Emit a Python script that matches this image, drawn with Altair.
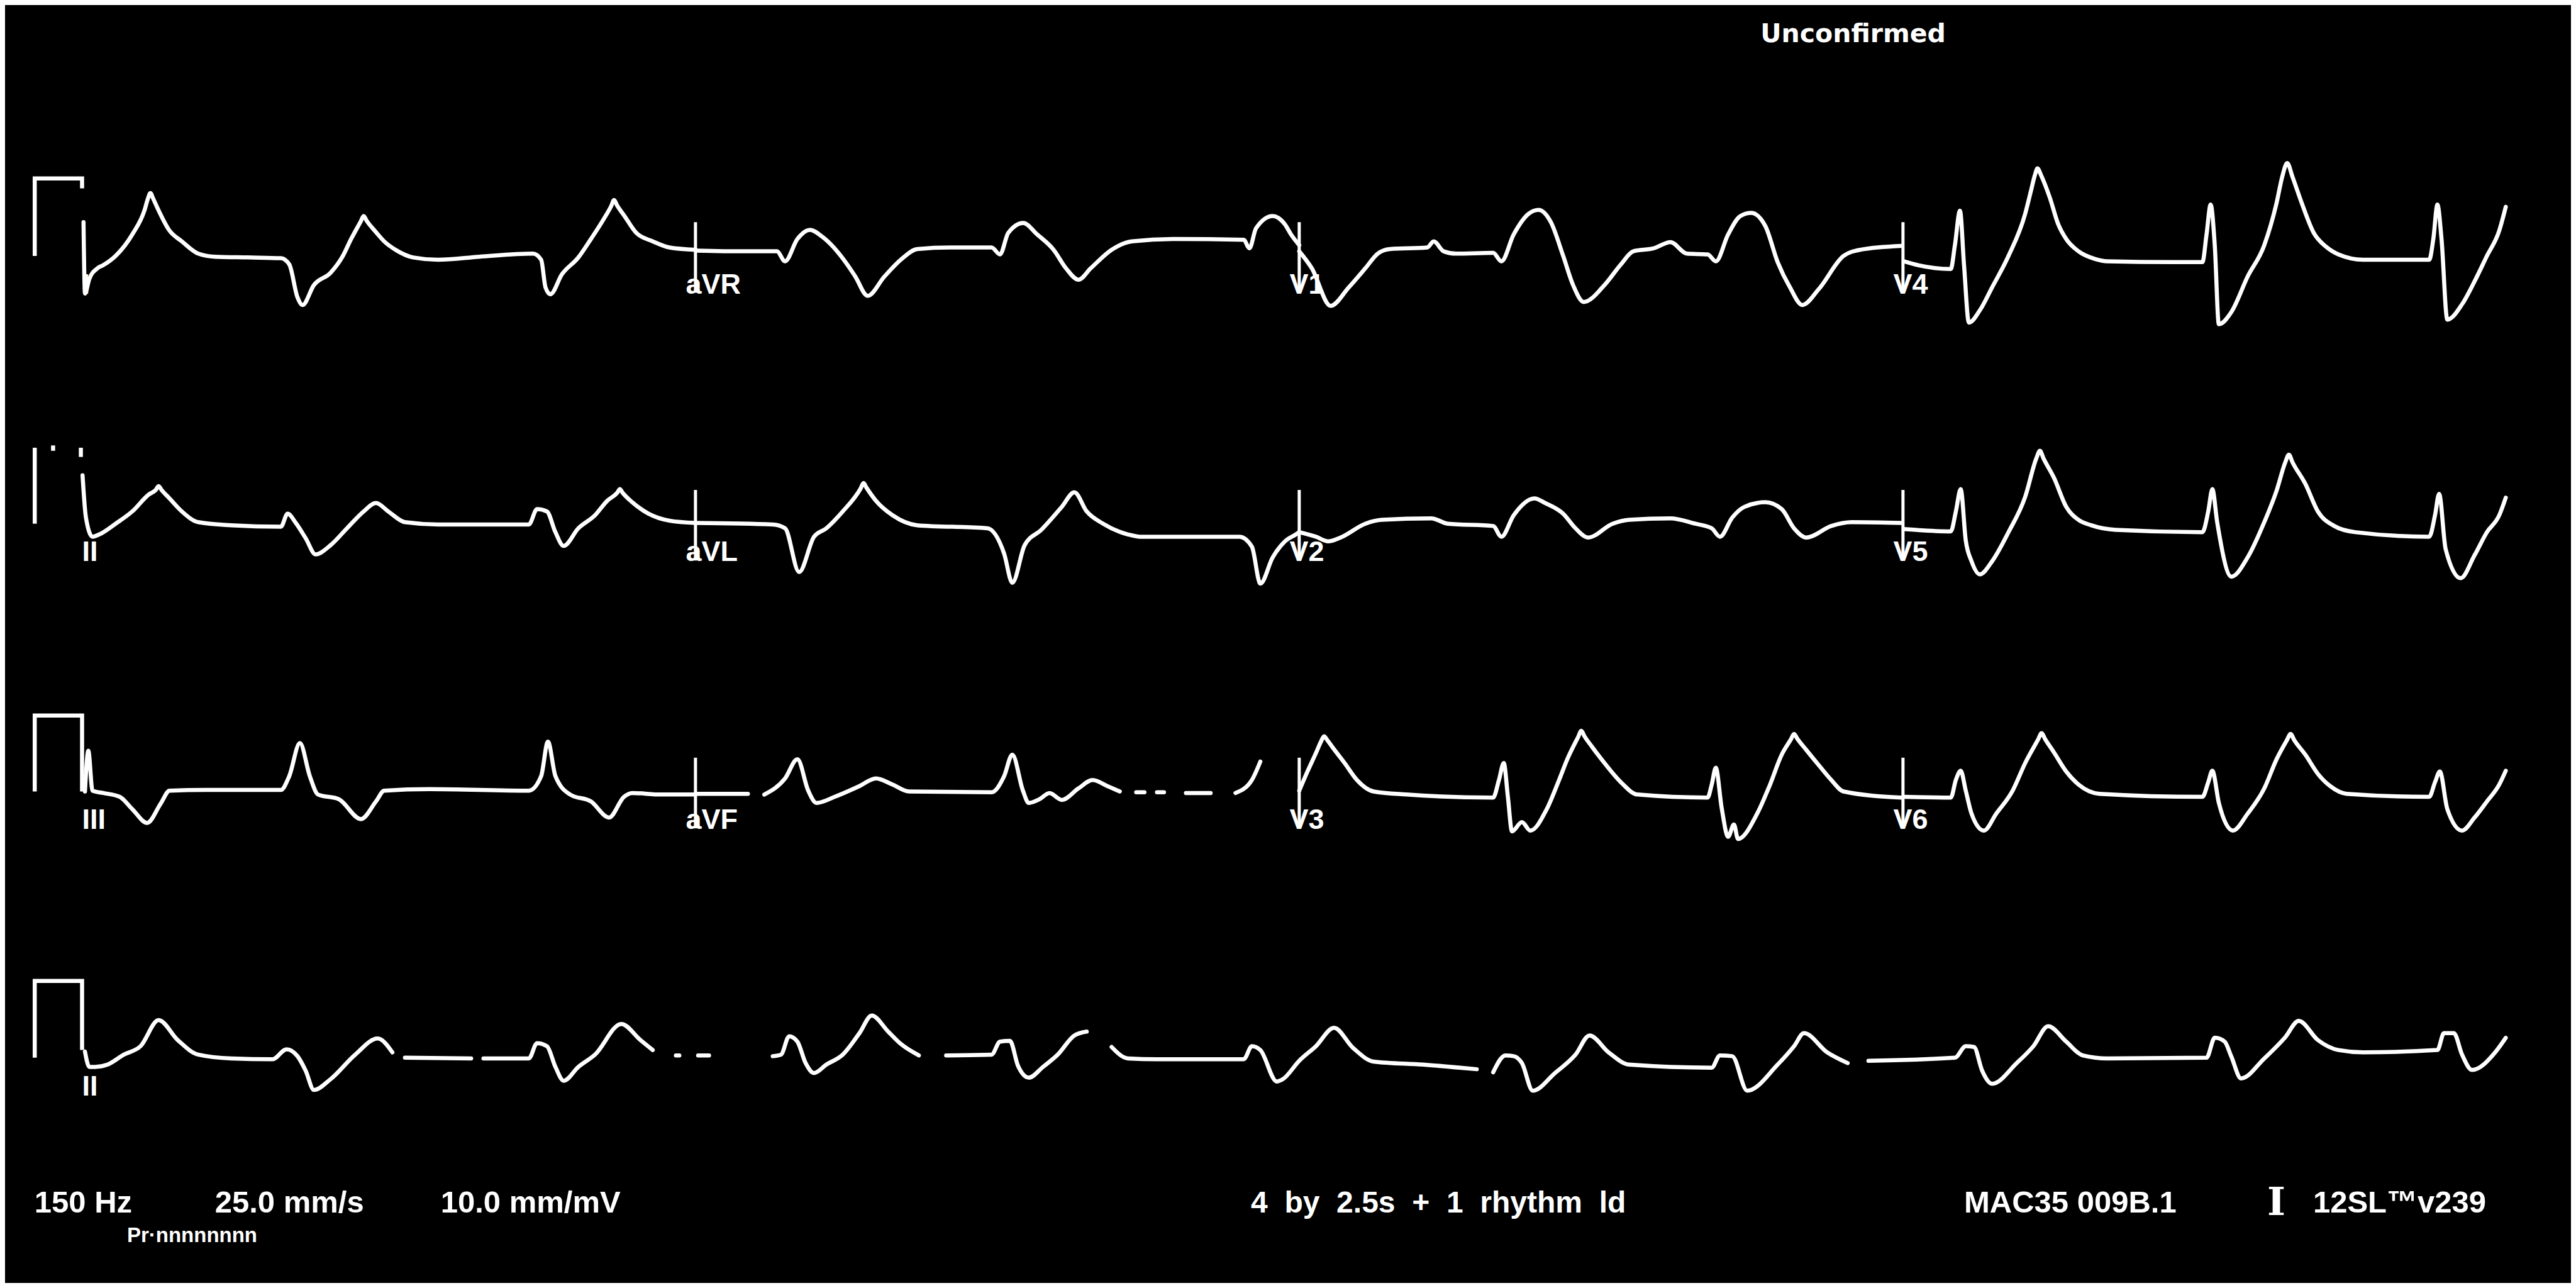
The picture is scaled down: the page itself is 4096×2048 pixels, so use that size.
import altair as alt
import pandas as pd

# ---------------------------------------------------------------
# ECG data: time in s (25 mm/s), amplitude in mV (10 mm/mV)
# None marks a break (drop-out) in the printed trace
# ---------------------------------------------------------------

# Row 1
LEAD_I = [(-0.034, 0.44), (-0.028, -0.49), (-0.010, -0.30), (0.024, -0.16), (0.048, -0.12), (0.099, 0.00),
          (0.168, 0.28), (0.219, 0.60), (0.232, 0.74), (0.243, 0.82), (0.254, 0.75), (0.270, 0.64), (0.322, 0.33),
          (0.373, 0.19), (0.441, 0.03),
          (0.510, -0.01), (0.647, -0.02), (0.783, -0.03), (0.818, -0.11), (0.852, -0.54), (0.873, -0.64),
          (0.920, -0.38), (0.989, -0.22), (1.040, 0.00), (1.074, 0.22), (1.114, 0.45), (1.126, 0.52),
          (1.138, 0.46), (1.177, 0.31), (1.211, 0.19),
          (1.263, 0.07), (1.331, -0.02), (1.434, -0.05), (1.605, -0.01), (1.827, 0.03), (1.861, -0.05),
          (1.879, -0.41), (1.899, -0.50), (1.947, -0.24), (2.015, -0.02), (2.067, 0.22), (2.118, 0.47),
          (2.151, 0.65), (2.163, 0.73), (2.175, 0.66), (2.204, 0.53), (2.255, 0.30), (2.323, 0.19),
          (2.392, 0.11), (2.501, 0.08)]
LEAD_AVR = [(2.501, 0.07), (2.700, 0.06), (2.837, 0.06), (2.871, -0.07), (2.922, 0.22), (2.974, 0.34),
            (3.025, 0.25), (3.128, -0.11), (3.162, -0.27), (3.213, -0.52), (3.282, -0.27), (3.350, -0.05),
            (3.419, 0.09), (3.555, 0.11), (3.726, 0.11), (3.761, 0.02), (3.795, 0.30), (3.857, 0.43), (3.915, 0.28),
            (3.983, 0.08), (4.034, -0.16), (4.086, -0.31), (4.137, -0.16), (4.223, 0.08), (4.308, 0.19),
            (4.479, 0.22), (4.770, 0.21), (4.794, 0.10), (4.821, 0.36), (4.890, 0.52), (4.941, 0.41),
            (4.966, 0.28), (5.000, 0.14)]
LEAD_V1 = [(5.000, 0.06), (5.052, -0.16), (5.130, -0.65), (5.205, -0.41), (5.274, -0.16), (5.325, 0.03),
           (5.376, 0.09), (5.530, 0.11), (5.557, 0.19), (5.598, 0.06), (5.649, 0.03), (5.803, 0.04), (5.837, -0.07),
           (5.888, 0.28), (5.950, 0.55), (5.991, 0.60), (6.042, 0.44), (6.093, 0.00), (6.134, -0.38),
           (6.178, -0.60), (6.264, -0.38), (6.332, -0.11), (6.383, 0.06), (6.469, 0.10), (6.537, 0.18),
           (6.605, 0.03), (6.691, 0.02), (6.725, -0.07), (6.776, 0.28), (6.827, 0.52), (6.872, 0.56), (6.930, 0.39),
           (6.981, -0.08), (7.032, -0.41), (7.083, -0.64), (7.152, -0.43), (7.254, 0.00), (7.323, 0.08),
           (7.493, 0.13)]
LEAD_V4 = [(7.503, -0.07), (7.562, -0.12), (7.698, -0.17), (7.715, 0.14), (7.736, 0.59), (7.753, -0.13),
           (7.773, -0.87), (7.818, -0.71), (7.869, -0.41), (7.937, 0.00), (8.006, 0.55), (8.030, 0.85),
           (8.046, 1.05), (8.057, 1.14), (8.072, 1.05), (8.108, 0.76), (8.142, 0.42), (8.176, 0.22),
           (8.227, 0.06), (8.296, -0.04), (8.347, -0.07), (8.620, -0.08),
           (8.740, -0.08), (8.757, 0.28), (8.774, 0.67), (8.791, 0.14), (8.808, -0.89), (8.860, -0.73),
           (8.927, -0.27), (8.996, 0.14), (9.047, 0.69), (9.071, 1.04), (9.091, 1.21), (9.113, 1.03),
           (9.150, 0.70), (9.201, 0.30), (9.252, 0.12),
           (9.303, 0.02), (9.406, -0.05), (9.679, -0.05), (9.696, 0.22), (9.713, 0.67), (9.730, 0.22),
           (9.754, -0.83), (9.815, -0.63), (9.867, -0.33), (9.918, 0.00), (9.969, 0.33), (9.996, 0.64)]

# Row 2
LEAD_II = [(-0.038, 0.63), (-0.024, 0.08), (0.003, -0.17), (0.031, -0.14), (0.099, 0.00), (0.168, 0.16),
           (0.236, 0.38), (0.265, 0.44), (0.277, 0.49), (0.289, 0.44), (0.322, 0.33), (0.373, 0.16), (0.441, 0.02),
           (0.578, -0.02),
           (0.783, -0.04), (0.811, 0.13), (0.845, 0.01), (0.886, -0.19), (0.927, -0.40), (0.989, -0.28),
           (1.057, -0.06), (1.126, 0.16), (1.177, 0.27), (1.228, 0.16), (1.297, 0.02), (1.434, -0.01),
           (1.810, -0.01), (1.844, 0.19), (1.885, 0.16), (1.920, -0.11), (1.954, -0.29), (2.015, -0.06),
           (2.084, 0.11), (2.135, 0.30), (2.175, 0.40), (2.187, 0.45), (2.199, 0.40), (2.238, 0.28),
           (2.306, 0.13), (2.392, 0.04), (2.501, 0.01)]
LEAD_AVL = [(2.501, 0.01), (2.820, -0.01), (2.871, -0.06), (2.929, -0.63), (2.991, -0.17), (3.042, -0.06),
            (3.110, 0.16), (3.184, 0.46), (3.196, 0.53), (3.208, 0.47), (3.247, 0.30), (3.316, 0.11),
            (3.418, -0.02), (3.709, -0.06),
            (3.778, -0.39), (3.812, -0.77), (3.863, -0.28), (3.932, -0.08), (4.017, 0.22), (4.069, 0.41),
            (4.120, 0.16), (4.188, 0.00), (4.291, -0.14), (4.342, -0.17), (4.753, -0.17), (4.804, -0.30),
            (4.839, -0.78), (4.890, -0.44), (4.941, -0.23), (4.986, -0.14), (5.000, -0.11)]
LEAD_V2 = [(5.000, -0.11), (5.069, -0.17), (5.120, -0.23), (5.171, -0.18), (5.274, 0.00), (5.342, 0.05),
           (5.547, 0.07), (5.615, 0.00), (5.803, -0.03), (5.837, -0.17), (5.888, 0.11), (5.974, 0.33),
           (6.018, 0.27), (6.093, 0.13), (6.144, -0.06), (6.196, -0.18), (6.298, 0.00), (6.366, 0.05),
           (6.537, 0.07), (6.640, 0.00), (6.708, -0.06), (6.742, -0.17), (6.793, 0.08), (6.844, 0.22),
           (6.930, 0.28), (6.998, 0.19), (7.049, -0.06), (7.100, -0.18), (7.203, -0.03), (7.288, 0.02),
           (7.493, 0.01)]
LEAD_V5 = [(7.503, -0.07), (7.698, -0.10), (7.719, 0.16), (7.739, 0.45), (7.760, -0.22), (7.784, -0.49),
           (7.818, -0.66), (7.869, -0.49), (7.937, -0.11), (8.006, 0.35), (8.052, 0.85), (8.067, 0.95),
           (8.082, 0.85), (8.125, 0.60),
           (8.176, 0.22), (8.227, 0.05), (8.279, -0.02), (8.381, -0.08), (8.740, -0.11), (8.764, 0.16),
           (8.781, 0.45), (8.801, 0.02), (8.860, -0.69), (8.927, -0.44), (8.996, 0.02), (9.047, 0.43),
           (9.083, 0.80), (9.098, 0.90), (9.113, 0.80), (9.166, 0.52), (9.218, 0.16), (9.286, -0.03),
           (9.372, -0.11), (9.679, -0.17),
           (9.703, 0.11), (9.720, 0.39), (9.747, -0.33), (9.809, -0.71), (9.867, -0.41), (9.918, -0.11),
           (9.969, 0.11), (9.996, 0.34)]

# Row 3
LEAD_III = [(-0.028, 0.00), (-0.014, 0.53), (0.003, 0.01), (0.048, -0.02), (0.116, -0.07), (0.168, -0.23),
            (0.229, -0.41), (0.287, -0.15), (0.322, 0.01), (0.475, 0.02), (0.783, 0.02), (0.818, 0.20),
            (0.862, 0.63), (0.903, 0.20), (0.937, -0.04), (1.023, -0.10), (1.115, -0.36), (1.177, -0.13),
            (1.211, 0.01), (1.399, 0.03), (1.810, 0.01), (1.861, 0.20), (1.889, 0.65), (1.920, 0.20),
            (1.981, -0.04), (2.067, -0.13), (2.142, -0.34), (2.204, -0.07), (2.238, -0.02), (2.358, -0.04),
            (2.501, -0.04)]
LEAD_AVF = [(2.501, -0.03), (2.717, -0.03), None, (2.785, -0.04), (2.871, 0.17), (2.922, 0.42), (2.967, 0.01),
            (3.001, -0.15), (3.076, -0.07), (3.179, 0.07), (3.247, 0.17), (3.316, 0.09), (3.384, 0.00),
            (3.726, -0.01), (3.778, 0.20), (3.812, 0.48), (3.856, 0.01), (3.880, -0.15), (3.925, -0.10),
            (3.966, -0.02), (4.017, -0.11), (4.086, 0.04), (4.144, 0.15), (4.206, 0.07), (4.257, 0.00), None,
            (4.325, -0.01), (4.359, -0.01), None, (4.411, -0.01), (4.440, -0.01), None, (4.531, -0.02),
            (4.633, -0.02), None, (4.736, -0.02), (4.804, 0.15), (4.839, 0.39)]
LEAD_V3 = [(5.000, 0.01), (5.034, 0.26), (5.069, 0.50), (5.090, 0.65), (5.103, 0.72), (5.116, 0.67),
           (5.137, 0.58), (5.188, 0.37),
           (5.239, 0.15), (5.308, 0.00), (5.444, -0.04), (5.803, -0.08), (5.827, 0.15), (5.847, 0.37),
           (5.864, -0.07), (5.881, -0.52), (5.922, -0.40), (5.957, -0.51), (6.025, -0.23), (6.076, 0.15),
           (6.110, 0.42), (6.155, 0.71), (6.168, 0.79), (6.181, 0.72), (6.213, 0.58), (6.264, 0.37),
           (6.332, 0.12), (6.400, -0.04),
           (6.691, -0.08), (6.708, 0.09), (6.725, 0.31), (6.749, -0.21), (6.776, -0.59), (6.800, -0.43),
           (6.817, -0.62), (6.896, -0.29), (6.947, 0.07), (6.998, 0.48), (7.036, 0.68), (7.049, 0.75),
           (7.062, 0.69), (7.100, 0.54),
           (7.152, 0.34), (7.203, 0.15), (7.254, 0.00), (7.493, -0.08)]
LEAD_V6 = [(7.503, -0.07), (7.698, -0.08), (7.719, 0.15), (7.739, 0.27), (7.760, 0.01), (7.784, -0.29),
           (7.835, -0.51), (7.886, -0.29), (7.954, 0.01), (8.006, 0.37), (8.060, 0.68), (8.074, 0.76),
           (8.089, 0.68), (8.125, 0.51),
           (8.176, 0.26), (8.227, 0.09), (8.313, -0.03), (8.740, -0.07), (8.764, 0.12), (8.781, 0.27),
           (8.808, -0.15), (8.866, -0.51), (8.927, -0.29), (8.996, 0.04), (9.047, 0.42), (9.090, 0.67),
           (9.105, 0.75), (9.120, 0.67),
           (9.166, 0.48), (9.218, 0.23), (9.269, 0.07), (9.337, -0.03), (9.679, -0.07), (9.703, 0.12),
           (9.723, 0.26), (9.754, -0.23), (9.815, -0.51), (9.867, -0.34), (9.918, -0.13), (9.969, 0.09),
           (9.996, 0.27)]

# Row 4: rhythm strip, lead II
RHYTHM_II = [(-0.028, 0.08), (-0.010, -0.12), (0.014, -0.12), (0.065, -0.09), (0.133, 0.04), (0.202, 0.15),
             (0.277, 0.49), (0.356, 0.23), (0.441, 0.04), (0.578, -0.01), (0.749, -0.02), (0.807, 0.11),
             (0.852, 0.02), (0.886, -0.17), (0.920, -0.42), (0.989, -0.28), (1.091, 0.04), (1.184, 0.25),
             (1.245, 0.07), None, (1.297, 0.00), (1.571, -0.01), None, (1.622, -0.01), (1.810, -0.01),
             (1.844, 0.19), (1.885, 0.15), (1.920, -0.12), (1.954, -0.30), (2.015, -0.12), (2.084, 0.04),
             (2.193, 0.44), (2.272, 0.23), (2.323, 0.10), None, (2.419, 0.03), (2.433, 0.03), None,
             (2.511, 0.03), (2.556, 0.03), None, (2.820, 0.02), (2.854, 0.04), (2.888, 0.28), (2.922, 0.21),
             (2.956, -0.07), (2.991, -0.20), (3.042, -0.09), (3.110, 0.04), (3.179, 0.32), (3.230, 0.55),
             (3.298, 0.34), (3.350, 0.18), (3.425, 0.03), None, (3.538, 0.03), (3.726, 0.04), (3.761, 0.21),
             (3.802, 0.22), (3.836, -0.11), (3.880, -0.26), (3.939, -0.12), (4.000, 0.04), (4.069, 0.29),
             (4.120, 0.34), None, (4.223, 0.14), (4.291, -0.01), (4.411, -0.02), (4.770, -0.02), (4.804, 0.15),
             (4.839, 0.10), (4.907, -0.31), (4.932, -0.28), (5.000, -0.04), (5.069, 0.15), (5.144, 0.39),
             (5.222, 0.13), (5.308, -0.05), (5.513, -0.09), (5.735, -0.15), None, (5.803, -0.19), (5.854, 0.03),
             (5.888, 0.02), (5.922, -0.07), (5.967, -0.43), (6.059, -0.20), (6.144, 0.04), (6.202, 0.29),
             (6.281, 0.07), (6.366, -0.09), (6.708, -0.13), (6.742, 0.03), (6.793, 0.02), (6.855, -0.43),
             (6.981, -0.09), (7.049, 0.15), (7.090, 0.32), (7.186, 0.07), (7.271, -0.07), None, (7.357, -0.04),
             (7.715, 0.00), (7.760, 0.15), (7.794, 0.14), (7.828, -0.17), (7.869, -0.34), (7.971, -0.07),
             (8.040, 0.15), (8.101, 0.41), (8.176, 0.21), (8.244, 0.03), (8.347, -0.01), (8.757, 0.00),
             (8.791, 0.26), (8.832, 0.21), (8.859, 0.02), (8.900, -0.27), (8.996, -0.01), (9.081, 0.26),
             (9.139, 0.48), (9.218, 0.23), (9.303, 0.10), (9.406, 0.07), (9.713, 0.10), (9.740, 0.32),
             (9.781, 0.32), (9.815, 0.04), (9.856, -0.16), (9.952, 0.07), (9.996, 0.26)]

# 1 mV calibration pulses at the start of each row
CAL_1 = [(-0.236, 0.00), (-0.236, 1.01), (-0.040, 1.01), (-0.040, 0.88)]
CAL_2 = [(-0.236, 0.00), (-0.236, 0.99), None, (-0.160, 1.02), (-0.160, 0.95), None, (-0.045, 0.99), (-0.045, 0.87)]
CAL_3 = [(-0.236, 0.00), (-0.236, 0.99), (-0.040, 0.99), (-0.040, 0.00)]
CAL_4 = [(-0.236, 0.00), (-0.236, 1.00), (-0.040, 1.00), (-0.040, 0.10)]

# lead names: (label, row, column start time in s)
LEAD_LABELS = [("I", 0, 0.0), ("aVR", 0, 2.5), ("V1", 0, 5.0), ("V4", 0, 7.5),
               ("II", 1, 0.0), ("aVL", 1, 2.5), ("V2", 1, 5.0), ("V5", 1, 7.5),
               ("III", 2, 0.0), ("aVF", 2, 2.5), ("V3", 2, 5.0), ("V6", 2, 7.5),
               ("II", 3, 0.0)]
MARKER_TIMES = [2.5, 5.0, 7.5]
MARKER_RANGE = (0.44, -0.48)

NB = "\u00a0\u00a0"
# footer / header texts: (text, time position, vertical position)
FOOTER = [("150 Hz", -0.237, -15.74), ("25.0 mm/s", 0.510, -15.74), ("10.0 mm/mV", 1.445, -15.74),
          ("MAC35 009B.1", 7.753, -15.74), ("12SL\u2122v239", 9.198, -15.74)]
CENTER_NOTE = [(NB.join(["4", "by", "2.5s", "+", "1", "rhythm", "ld"]), 4.80, -15.74)]
SMALL_NOTE = [("Pr\u00b7nnnnnnnn", 0.146, -16.12)]
LOGO = [("I", 9.008, -15.77)]
HEADER = [("Unconfirmed", 6.91, -0.48)]

# ---------------------------------------------------------------
# layout: vertical offset of each row baseline (scale units below top)
ROW_BASE = {0: 3.27, 1: 6.76, 2: 10.25, 3: 13.72}
X_DOMAIN = [-0.359, 10.266]
Y_DOMAIN = [-16.656, 0.0]

TRACES = [("I", 0, LEAD_I), ("aVR", 0, LEAD_AVR), ("V1", 0, LEAD_V1), ("V4", 0, LEAD_V4),
          ("II", 1, LEAD_II), ("aVL", 1, LEAD_AVL), ("V2", 1, LEAD_V2), ("V5", 1, LEAD_V5),
          ("III", 2, LEAD_III), ("aVF", 2, LEAD_AVF), ("V3", 2, LEAD_V3), ("V6", 2, LEAD_V6),
          ("IIr", 3, RHYTHM_II)]
CALS = [("cal", 0, CAL_1), ("cal", 1, CAL_2), ("cal", 2, CAL_3), ("cal", 3, CAL_4)]


def build(series):
    recs = []
    for name, r, pts in series:
        seg = 0
        for p in pts:
            if p is None:
                seg += 1
                continue
            recs.append({"seg": f"{name}-{r}-{seg}", "t": p[0], "y": p[1] - ROW_BASE[r], "ord": len(recs)})
    return pd.DataFrame(recs)


trace_df = build(TRACES)
cal_df = build(CALS)

marker_df = pd.DataFrame([{"t": t, "y1": MARKER_RANGE[0] - ROW_BASE[r], "y2": MARKER_RANGE[1] - ROW_BASE[r]}
                          for r in (0, 1, 2) for t in MARKER_TIMES])
label_df = pd.DataFrame([{"text": n, "t": c - 0.04, "y": -0.49 - ROW_BASE[r]} for n, r, c in LEAD_LABELS])


def tdf(items):
    return pd.DataFrame([{"text": a, "t": b, "y": c} for a, b, c in items])


xs = alt.Scale(domain=X_DOMAIN, nice=False, zero=False)
ys = alt.Scale(domain=Y_DOMAIN, nice=False, zero=False)
X = alt.X("t:Q", scale=xs, axis=None)
Y = alt.Y("y:Q", scale=ys, axis=None)

LW = 6.5
lines = alt.Chart(trace_df).mark_line(
    color="white", strokeWidth=LW, strokeCap="round", strokeJoin="round", interpolate="monotone"
).encode(x=X, y=Y, detail="seg:N", order="ord:Q")

cal = alt.Chart(cal_df).mark_line(
    color="white", strokeWidth=LW, strokeCap="butt", strokeJoin="miter"
).encode(x=X, y=Y, detail="seg:N", order="ord:Q")

rules = alt.Chart(marker_df).mark_rule(color="white", strokeWidth=5).encode(
    x=X, y=alt.Y("y1:Q", scale=ys, axis=None), y2="y2:Q")

SANS = "Liberation Sans, Arial, sans-serif"


def text_layer(df, size, font=SANS, weight="bold"):
    return alt.Chart(df).mark_text(
        align="left", baseline="alphabetic", color="white", font=font, fontSize=size, fontWeight=weight
    ).encode(x=X, y=Y, text="text:N")


labels = text_layer(label_df, 45)
footer = text_layer(tdf(FOOTER), 49)
center = text_layer(tdf(CENTER_NOTE), 48)
small = text_layer(tdf(SMALL_NOTE), 33)
logo = text_layer(tdf(LOGO), 62, font="DejaVu Serif")
header = text_layer(tdf(HEADER), 41, font="DejaVu Sans")

chart = alt.layer(lines, cal, rules, labels, footer, center, small, logo, header).properties(
    width=4080, height=2032,
    autosize=alt.AutoSizeParams(type="fit", contains="padding"),
    padding=0, background="black",
).configure_view(strokeWidth=0)

chart.save("out.html", embed_options={"renderer": "svg", "actions": False})
